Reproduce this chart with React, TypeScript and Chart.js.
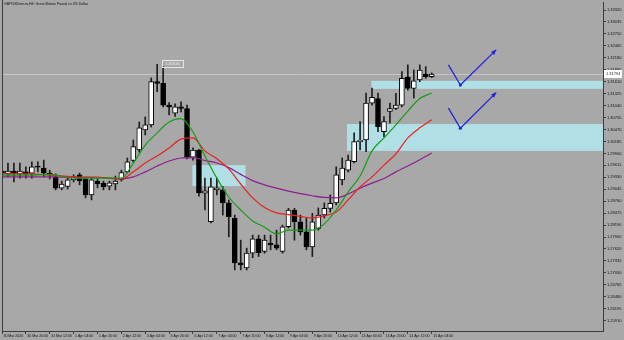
import React, { useEffect, useRef } from 'react';
import { Chart, registerables } from 'chart.js';

Chart.register(...registerables);

const TITLE = 'GBPUSDmicro,H4: Great Britain Pound vs US Dollar';

// H4 candles, bar index 0 = 30 Mar 2020 04:00
const opens = [
  1.2948, 1.2941, 1.2948, 1.2941, 1.2946, 1.2943, 1.2960, 1.2955, 1.2943, 1.2934,
  1.2907, 1.2911, 1.2927, 1.2939, 1.2929, 1.2891, 1.2924, 1.2919, 1.2912, 1.2917,
  1.2928, 1.2946, 1.2973, 1.2998, 1.3046, 1.3058, 1.3161, 1.3157, 1.3105, 1.3086,
  1.3101, 1.3097, 1.2981, 1.2998, 1.2895, 1.2827, 1.2903, 1.2903, 1.2872, 1.2836,
  1.2729, 1.2717, 1.2752, 1.2786, 1.2756, 1.2776, 1.2772, 1.2756, 1.2815, 1.2855,
  1.2827, 1.2803, 1.2767, 1.2811, 1.2843, 1.2859, 1.2872, 1.2927, 1.2950, 1.2970,
  1.3018, 1.3022, 1.3110, 1.3121, 1.3042, 1.3090, 1.3097, 1.3105, 1.3172, 1.3145,
  1.3165, 1.3179, 1.3173,
];
const highs = [
  1.2965, 1.2967, 1.2967, 1.2967, 1.2958, 1.2970, 1.2970, 1.2974, 1.2950, 1.2941,
  1.2924, 1.2931, 1.2939, 1.2943, 1.2931, 1.2931, 1.2929, 1.2924, 1.2924, 1.2936,
  1.2950, 1.2979, 1.3022, 1.3065, 1.3077, 1.3170, 1.32026, 1.3197, 1.3111, 1.3108,
  1.3113, 1.3105, 1.3003, 1.3000, 1.2931, 1.2931, 1.2931, 1.2911, 1.2879, 1.2843,
  1.2783, 1.2764, 1.2795, 1.2795, 1.2795, 1.2795, 1.2807, 1.2819, 1.2859, 1.2859,
  1.2843, 1.2836, 1.2847, 1.2860, 1.2872, 1.2891, 1.2958, 1.2979, 1.2986, 1.3039,
  1.3066, 1.3134, 1.3146, 1.3134, 1.3078, 1.3110, 1.3133, 1.3185, 1.3201, 1.3189,
  1.3201, 1.3197, 1.3182,
];
const lows = [
  1.2934, 1.2934, 1.2922, 1.2931, 1.2931, 1.2931, 1.2946, 1.2934, 1.2929, 1.2903,
  1.2903, 1.2905, 1.2922, 1.2915, 1.2884, 1.2879, 1.2908, 1.2903, 1.2903, 1.2903,
  1.2924, 1.2943, 1.2970, 1.2993, 1.3034, 1.3053, 1.3137, 1.3101, 1.3082, 1.3078,
  1.3089, 1.2977, 1.2974, 1.2888, 1.2855, 1.2824, 1.2891, 1.2843, 1.2791, 1.2712,
  1.2712, 1.2712, 1.2741, 1.2744, 1.2752, 1.2760, 1.2760, 1.2752, 1.2812, 1.2783,
  1.2795, 1.2760, 1.2744, 1.2807, 1.2836, 1.2850, 1.2867, 1.2915, 1.2946, 1.2967,
  1.2998, 1.2994, 1.3105, 1.3042, 1.3030, 1.3062, 1.3094, 1.3101, 1.3141, 1.3122,
  1.3161, 1.3169, 1.3171,
];
const closes = [
  1.2943, 1.2948, 1.2943, 1.2948, 1.2941, 1.2958, 1.2957, 1.2943, 1.2939, 1.2907,
  1.2917, 1.2927, 1.2934, 1.2925, 1.2891, 1.2927, 1.2917, 1.2910, 1.2920, 1.2924,
  1.2944, 1.2970, 1.3006, 1.3051, 1.3058, 1.3161, 1.3157, 1.3105, 1.3101, 1.3101,
  1.3097, 1.2981, 1.2998, 1.2896, 1.2901, 1.2910, 1.2908, 1.2872, 1.2839, 1.2729,
  1.2724, 1.2752, 1.2786, 1.2753, 1.2783, 1.2772, 1.2764, 1.2815, 1.2855, 1.2827,
  1.2803, 1.2767, 1.2827, 1.2843, 1.2859, 1.2871, 1.2939, 1.2955, 1.2974, 1.3018,
  1.3022, 1.3110, 1.3124, 1.3054, 1.3066, 1.3097, 1.3105, 1.3169, 1.3145, 1.3163,
  1.3189, 1.3173, 1.31794,
];

// time axis labels (bar index -> label)
const timeTickIdx = [0, 4, 8, 12, 16, 20, 24, 28, 32, 36, 40, 44, 48, 52, 56, 60, 64, 68, 72];
const timeTickLabels = [
  '30 Mar 2020', '30 Mar 20:00', '31 Mar 12:00', '1 Apr 04:00', '1 Apr 20:00', '2 Apr 12:00',
  '3 Apr 04:00', '3 Apr 20:00', '6 Apr 12:00', '7 Apr 04:00', '7 Apr 20:00', '8 Apr 12:00',
  '9 Apr 04:00', '9 Apr 20:00', '10 Apr 12:00', '13 Apr 04:00', '13 Apr 20:00', '14 Apr 12:00',
  '15 Apr 04:00',
];

// price axis labels
const priceTicks = [
  1.3332, 1.33035, 1.3275, 1.32465, 1.3218, 1.31895, 1.3161, 1.31325, 1.3104,
  1.30755, 1.3047, 1.30185, 1.299, 1.29615, 1.2933, 1.29045, 1.2876, 1.28475,
  1.2819, 1.27905, 1.2762, 1.27335, 1.2705, 1.26765, 1.2648, 1.26195, 1.2591,
];

// moving averages, sampled at bar indices
const maIdx = [0, 4, 8, 12, 16, 20, 22, 24, 26, 28, 30, 32, 34, 36, 38, 40, 42, 44, 46, 48, 50, 52, 54, 56, 58, 60, 62, 64, 66, 68, 70, 72];
const maFast = [
  1.2938, 1.2938, 1.2940, 1.2931, 1.2931, 1.2931, 1.2967, 1.3010, 1.3039, 1.3065, 1.3073,
  1.3041, 1.2984, 1.2931, 1.2886, 1.2855, 1.2829, 1.2814, 1.2798, 1.2807, 1.2807, 1.2807,
  1.2822, 1.2855, 1.2898, 1.2936, 1.2996, 1.3027, 1.3058, 1.3091, 1.3121, 1.3134,
];
const maMid = [
  1.2941, 1.2941, 1.2938, 1.2934, 1.2933, 1.2929, 1.2946, 1.2967, 1.2984, 1.3003, 1.3024,
  1.3027, 1.2996, 1.2977, 1.2953, 1.2917, 1.2884, 1.2861, 1.2848, 1.2844, 1.2840, 1.2836,
  1.2841, 1.2850, 1.2879, 1.2910, 1.2934, 1.2962, 1.2989, 1.3027, 1.3051, 1.3070,
];
const maSlow = [
  1.2934, 1.2934, 1.2934, 1.2933, 1.2933, 1.2929, 1.2934, 1.2946, 1.2960, 1.2972, 1.2979,
  1.2980, 1.2973, 1.2967, 1.2956, 1.2940, 1.2925, 1.2915, 1.2907, 1.2900, 1.2894, 1.2889,
  1.2885, 1.2884, 1.2893, 1.2907, 1.2919, 1.2930, 1.2946, 1.2960, 1.2975, 1.2991,
];

const X_MIN = 0;
const X_MAX = 100.7;
const Y_MIN = 1.25664;
const Y_MAX = 1.33511;

// zones (rectangles)
const zoneStart = [31.9, 57.8, 61.9];
const zoneEnd = [40.8, X_MAX, X_MAX];
const zoneLow = [1.2912, 1.2996, 1.3144];
const zoneHigh = [1.2962, 1.3060, 1.3163];

// hand-drawn arrows
const arrowX = [74.8, 76.8, 82.8];
const arrowUpperY = [1.3201, 1.3153, 1.3237];
const arrowLowerY = [1.3098, 1.3050, 1.3135];

const BID = 1.31794;
const PEAK_IDX = 26;
const PEAK = 1.32026;

const BG = '#a8a8a8';
const AXIS = '#3c3c3c';
const ZONE = '#b0e0e6';
const BLUE = '#2222e0';
const FONT = "'Liberation Sans', Arial, sans-serif";

const decorPlugin = {
  id: 'decor',
  beforeDraw(chart: any) {
    const { ctx, width, height } = chart;
    ctx.save();
    ctx.fillStyle = BG;
    ctx.fillRect(0, 0, width, height);
    ctx.restore();
  },
  beforeDatasetsDraw(chart: any) {
    const { ctx, chartArea: a } = chart;
    const xs = chart.scales.x;
    const ys = chart.scales.y;
    ctx.save();
    ctx.beginPath();
    ctx.rect(a.left, a.top, a.right - a.left, a.bottom - a.top);
    ctx.clip();
    ctx.fillStyle = ZONE;
    for (let k = 0; k < zoneStart.length; k++) {
      const x1 = xs.getPixelForValue(zoneStart[k]);
      const x2 = xs.getPixelForValue(zoneEnd[k]);
      const y1 = ys.getPixelForValue(zoneHigh[k]);
      const y2 = ys.getPixelForValue(zoneLow[k]);
      ctx.fillRect(x1, y1, x2 - x1, y2 - y1);
    }
    const by = Math.round(ys.getPixelForValue(BID)) + 0.5;
    ctx.strokeStyle = '#c6c6c6';
    ctx.lineWidth = 1;
    ctx.beginPath();
    ctx.moveTo(a.left, by);
    ctx.lineTo(a.right, by);
    ctx.stroke();
    ctx.restore();
  },
  afterDatasetsDraw(chart: any) {
    const { ctx } = chart;
    const xs = chart.scales.x;
    const ys = chart.scales.y;
    ctx.save();
    // arrow heads
    [arrowUpperY, arrowLowerY].forEach((ay) => {
      const n = arrowX.length;
      const x1 = xs.getPixelForValue(arrowX[n - 2]);
      const y1 = ys.getPixelForValue(ay[n - 2]);
      const x2 = xs.getPixelForValue(arrowX[n - 1]);
      const y2 = ys.getPixelForValue(ay[n - 1]);
      const ang = Math.atan2(y2 - y1, x2 - x1);
      const len = 5;
      const w = 2.2;
      ctx.fillStyle = BLUE;
      ctx.beginPath();
      ctx.moveTo(x2, y2);
      ctx.lineTo(x2 - len * Math.cos(ang) - w * Math.sin(ang), y2 - len * Math.sin(ang) + w * Math.cos(ang));
      ctx.lineTo(x2 - len * Math.cos(ang) + w * Math.sin(ang), y2 - len * Math.sin(ang) - w * Math.cos(ang));
      ctx.closePath();
      ctx.fill();
    });
    // peak price label
    const px = xs.getPixelForValue(PEAK_IDX) + 5;
    const py = ys.getPixelForValue(PEAK);
    ctx.strokeStyle = '#e6e6e6';
    ctx.lineWidth = 1;
    ctx.strokeRect(Math.round(px) + 0.5, Math.round(py - 4) + 0.5, 21, 7);
    ctx.fillStyle = '#f2f2f2';
    ctx.font = `4px ${FONT}`;
    ctx.textBaseline = 'middle';
    ctx.textAlign = 'left';
    ctx.fillText(PEAK.toFixed(5), px + 3, py);
    ctx.restore();
  },
  afterDraw(chart: any) {
    const { ctx, chartArea: a } = chart;
    const ys = chart.scales.y;
    ctx.save();
    // left frame line
    ctx.strokeStyle = AXIS;
    ctx.lineWidth = 1;
    ctx.beginPath();
    ctx.moveTo(a.left + 0.5, 0);
    ctx.lineTo(a.left + 0.5, a.bottom);
    ctx.stroke();
    // title
    ctx.fillStyle = '#111';
    ctx.font = `3.6px ${FONT}`;
    ctx.textBaseline = 'top';
    ctx.textAlign = 'left';
    ctx.fillText(TITLE, a.left + 2, 2);
    // bid price box
    const by = ys.getPixelForValue(BID);
    ctx.fillStyle = '#ffffff';
    ctx.fillRect(a.right + 1, by - 4, 18, 8);
    ctx.fillStyle = '#222';
    ctx.font = `4px ${FONT}`;
    ctx.textBaseline = 'middle';
    ctx.fillText(BID.toFixed(5), a.right + 3, by);
    ctx.restore();
  },
};

export default function App() {
  const ref = useRef<HTMLCanvasElement>(null);

  useEffect(() => {
    const canvas = ref.current;
    if (!canvas) return;
    const idx = opens.map((_, i) => i);
    const wickData = idx.map((i) => ({ x: i, y: [lows[i], highs[i]] }));
    const bodyData = idx.map((i) => ({ x: i, y: [opens[i], closes[i]] }));
    const bodyColors = idx.map((i) => (closes[i] >= opens[i] ? '#ffffff' : '#000000'));
    const pts = (xv: number[], yv: number[]) => xv.map((x, k) => ({ x, y: yv[k] }));
    const maLine = (data: number[], color: string, order: number) => ({
      type: 'line',
      data: pts(maIdx, data),
      borderColor: color,
      borderWidth: 1.2,
      pointRadius: 0,
      cubicInterpolationMode: 'monotone',
      order,
    });
    const arrowLine = (ay: number[]) => ({
      type: 'line',
      data: pts(arrowX, ay),
      borderColor: BLUE,
      borderWidth: 1.3,
      pointRadius: [0, 1.6, 0],
      pointBackgroundColor: BLUE,
      pointBorderWidth: 0,
      tension: 0,
      order: 0,
    });

    const chart = new Chart(canvas, {
      type: 'bar',
      data: {
        datasets: [
          {
            type: 'bar',
            data: wickData,
            backgroundColor: '#1e1e1e',
            borderWidth: 0,
            barThickness: 1,
            grouped: false,
            order: 10,
          },
          {
            type: 'bar',
            data: bodyData,
            backgroundColor: bodyColors,
            borderColor: '#000000',
            borderWidth: 1,
            borderSkipped: false,
            barThickness: 5,
            grouped: false,
            order: 9,
          },
          maLine(maSlow, '#8c1f8e', 3),
          maLine(maMid, '#e82020', 2),
          maLine(maFast, '#169c16', 1),
          arrowLine(arrowUpperY),
          arrowLine(arrowLowerY),
        ] as any,
      },
      options: {
        animation: false,
        responsive: false,
        maintainAspectRatio: false,
        devicePixelRatio: 1,
        events: [],
        layout: { padding: { left: 2, top: 2, right: 0, bottom: 0 } },
        plugins: {
          legend: { display: false },
          tooltip: { enabled: false },
          title: { display: false },
        },
        scales: {
          x: {
            type: 'linear',
            position: 'bottom',
            min: X_MIN,
            max: X_MAX,
            offset: false,
            grid: { offset: false, drawOnChartArea: false, drawTicks: true, tickLength: 3, color: AXIS },
            border: { display: true, color: AXIS },
            ticks: {
              autoSkip: false,
              maxRotation: 0,
              minRotation: 0,
              align: 'start',
              padding: 0,
              labelOffset: 1.5,
              color: '#111',
              font: { size: 3.5, family: FONT },
              callback: (v: any) => {
                const k = timeTickIdx.indexOf(Number(v));
                return k >= 0 ? timeTickLabels[k] : '';
              },
            },
            afterBuildTicks: (s: any) => {
              s.ticks = timeTickIdx.map((v) => ({ value: v }));
            },
            afterFit: (s: any) => {
              s.height = 9;
              s.paddingLeft = 0;
              s.paddingRight = 0;
            },
          },
          y: {
            type: 'linear',
            position: 'right',
            min: Y_MIN,
            max: Y_MAX,
            grid: { drawOnChartArea: false, drawTicks: true, tickLength: 3, color: AXIS },
            border: { display: true, color: AXIS },
            ticks: {
              autoSkip: false,
              padding: 1,
              color: '#111',
              font: { size: 4, family: FONT },
              callback: (v: any) => Number(v).toFixed(5),
            },
            afterBuildTicks: (s: any) => {
              s.ticks = priceTicks.map((v) => ({ value: v }));
            },
            afterFit: (s: any) => {
              s.width = 21;
              s.paddingTop = 0;
              s.paddingBottom = 0;
            },
          },
        },
      } as any,
      plugins: [decorPlugin],
    });

    return () => chart.destroy();
  }, []);

  return (
    <div style={{ position: 'absolute', left: 0, top: 0, width: 624, height: 340, background: BG }}>
      <canvas ref={ref} width={624} height={340} style={{ display: 'block', width: 624, height: 340 }} />
    </div>
  );
}
